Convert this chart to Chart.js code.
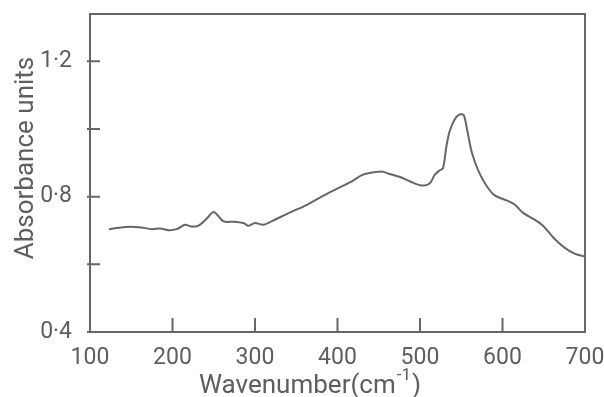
<!DOCTYPE html>
<html>
<head>
<meta charset="utf-8">
<script src="https://cdn.jsdelivr.net/npm/chart.js@4/dist/chart.umd.min.js"></script>
<style>
  html, body { margin: 0; padding: 0; background: #fff; }
  #wrap { width: 604px; height: 397px; }
</style>
</head>
<body>
<div id="wrap"><canvas id="chart" width="604" height="397"></canvas></div>
<script>
// spectrum
const wavenumbers = [123, 140, 159, 175, 185, 195, 205, 215, 223, 231, 241, 250, 262, 274, 286, 292, 300, 310, 320, 342,
  363, 383, 399, 415, 431, 447, 455, 462, 476, 488, 502, 512, 518, 524, 528, 532, 536, 542, 548, 553,
  557, 563, 571, 581, 591, 605, 615, 625, 639, 650, 662, 676, 688, 700];
const absorbance = [0.704, 0.710, 0.710, 0.704, 0.706, 0.701, 0.704, 0.717, 0.712, 0.714, 0.734, 0.755, 0.727, 0.726, 0.722, 0.714, 0.722, 0.717, 0.727, 0.753,
  0.776, 0.803, 0.823, 0.842, 0.865, 0.873, 0.874, 0.868, 0.858, 0.845, 0.833, 0.840, 0.865, 0.878, 0.885, 0.949, 0.994, 1.028, 1.043, 1.041,
  0.999, 0.929, 0.875, 0.831, 0.803, 0.789, 0.776, 0.752, 0.732, 0.712, 0.678, 0.648, 0.631, 0.623];

const xTicks = [100, 200, 300, 400, 500, 600, 700];
const yTicks = [0.4, 0.6, 0.8, 1.0, 1.2];
const yLabelled = [0.4, 0.8, 1.2];
const xTitle = "Wavenumber(cm";
const xTitleSup = "-1";
const yTitle = "Absorbance units";

const ink = "#666";
const textInk = "#5e5e5e";

const points = wavenumbers.map((w, i) => ({ x: w, y: absorbance[i] }));

// frame, inward ticks and axis titles
const framePlugin = {
  id: 'frame',
  afterDraw: c => {
    const ctx = c.ctx;
    const a = c.chartArea;
    const xs = c.scales.x, ys = c.scales.y;
    ctx.save();
    ctx.strokeStyle = ink;
    ctx.lineWidth = 2;
    ctx.strokeRect(a.left, a.top, a.right - a.left, a.bottom - a.top);
    ctx.beginPath();
    xTicks.forEach(v => {
      const px = xs.getPixelForValue(v);
      ctx.moveTo(px, a.bottom);
      ctx.lineTo(px, a.bottom - 14);
    });
    yTicks.forEach(v => {
      const py = ys.getPixelForValue(v);
      ctx.moveTo(a.left - 3, py);
      ctx.lineTo(a.left + 10, py);
    });
    ctx.stroke();

    ctx.fillStyle = textInk;
    // y title
    ctx.font = '26px Roboto';
    ctx.save();
    ctx.translate(33, 158);
    ctx.rotate(-Math.PI / 2);
    ctx.textAlign = 'center';
    ctx.textBaseline = 'alphabetic';
    ctx.fillText(yTitle, 0, 0);
    ctx.restore();

    // x title with superscript
    ctx.textBaseline = 'alphabetic';
    ctx.textAlign = 'left';
    ctx.font = '26px Roboto';
    const w1 = ctx.measureText(xTitle).width;
    ctx.font = '17px Roboto';
    const w2 = ctx.measureText(xTitleSup).width;
    ctx.font = '26px Roboto';
    const w3 = ctx.measureText(')').width;
    let x0 = 310 - (w1 + w2 + w3 + 2) / 2;
    ctx.fillText(xTitle, x0, 393);
    ctx.font = '17px Roboto';
    ctx.fillText(xTitleSup, x0 + w1 + 1, 380);
    ctx.font = '26px Roboto';
    ctx.fillText(')', x0 + w1 + w2 + 2, 393);
    ctx.restore();
  }
};

const chart = new Chart(document.getElementById('chart').getContext('2d'), {
  type: 'line',
  data: {
    datasets: [{
      data: points,
      borderColor: ink,
      borderWidth: 2,
      pointRadius: 0,
      fill: false,
      tension: 0.3
    }]
  },
  options: {
    responsive: false,
    animation: false,
    layout: { padding: { top: 14, right: 19, left: 0, bottom: 0 } },
    plugins: { legend: { display: false }, tooltip: { enabled: false } },
    scales: {
      x: {
        type: 'linear',
        min: 100,
        max: 700,
        afterBuildTicks: s => { s.ticks = xTicks.map(v => ({ value: v })); },
        afterFit: s => { s.height = 65; s.paddingLeft = 0; s.paddingRight = 0; },
        grid: { display: false },
        border: { display: false },
        ticks: {
          color: textInk,
          font: { family: 'Roboto', size: 23 },
          padding: 4,
          maxRotation: 0,
          callback: v => String(v)
        }
      },
      y: {
        min: 0.4,
        max: 1.34,
        afterBuildTicks: s => { s.ticks = yTicks.map(v => ({ value: v })); },
        afterFit: s => { s.width = 90; s.paddingTop = 0; s.paddingBottom = 0; },
        grid: { display: false },
        border: { display: false },
        ticks: {
          color: textInk,
          font: { family: 'Roboto', size: 23 },
          padding: 10,
          callback: v => yLabelled.some(t => Math.abs(t - v) < 1e-6) ? v.toFixed(1).replace('.', '\u00B7') : ''
        }
      }
    }
  },
  plugins: [framePlugin]
});
</script>
</body>
</html>
